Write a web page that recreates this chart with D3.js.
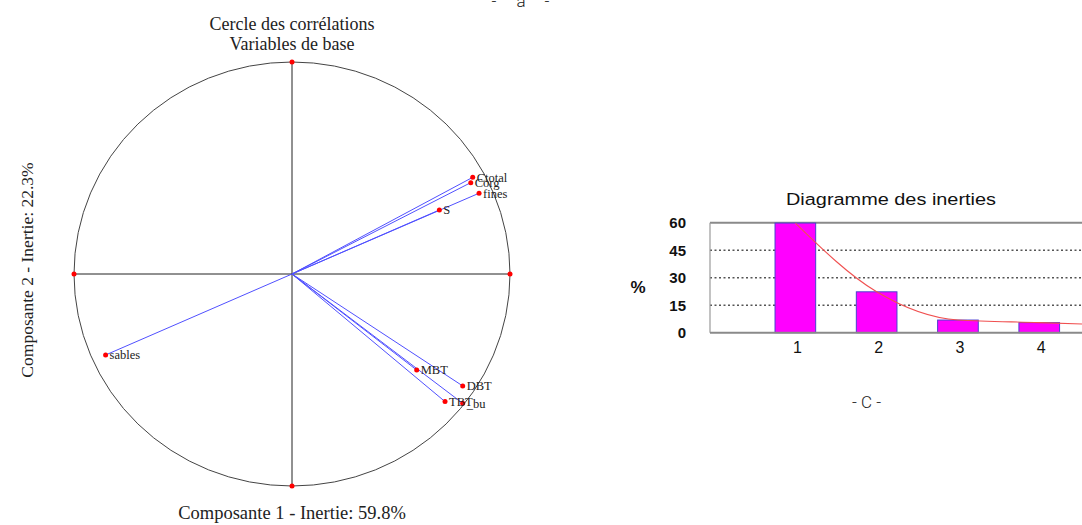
<!DOCTYPE html>
<html>
<head>
<meta charset="utf-8">
<script src="https://cdn.jsdelivr.net/npm/d3@7"></script>
<style>
  html, body { margin: 0; padding: 0; background: #fff; }
  svg { display: block; }
</style>
</head>
<body>
<svg id="chart" width="1082" height="525"></svg>
<script>
// ---------- DATA ----------
// Correlation circle: variable names and coordinates on components 1 and 2
const varNames = ["Ctotal", "Corg", "fines", "S", "sables", "MBT", "DBT", "TBT", "_bu"];
const comp1    = [0.829, 0.820, 0.858, 0.676, -0.855, 0.572, 0.783, 0.702, 0.783];
const comp2    = [0.456, 0.431, 0.381, 0.302, -0.382, -0.453, -0.528, -0.602, -0.610];

// Inertia diagram
const components = ["1", "2", "3", "4", "5"];
const inertia    = [59.8, 22.3, 6.9, 5.5, 4.0];
const yTicks     = [0, 15, 30, 45, 60];

// Text
const circleTitle = ["Cercle des corrélations", "Variables de base"];
const xLabel = "Composante 1 - Inertie: 59.8%";
const yLabel = "Composante 2 - Inertie: 22.3%";
const barTitle = "Diagramme des inerties";

const svg = d3.select("#chart");
svg.append("rect").attr("width", 1082).attr("height", 525).attr("fill", "#fff");

// ---------- LEFT: correlation circle ----------
const cx = d3.scaleLinear().domain([-1, 1]).range([74, 510]);
const cy = d3.scaleLinear().domain([-1, 1]).range([486, 62]);
const serif = "'Liberation Serif', 'Times New Roman', serif";

const gc = svg.append("g");

gc.append("ellipse")
  .attr("cx", cx(0)).attr("cy", cy(0))
  .attr("rx", cx(1) - cx(0)).attr("ry", cy(0) - cy(1))
  .attr("fill", "none").attr("stroke", "#444").attr("stroke-width", 1);

gc.append("line")
  .attr("x1", cx(-1)).attr("x2", cx(1)).attr("y1", cy(0)).attr("y2", cy(0))
  .attr("stroke", "#222").attr("stroke-width", 1);
gc.append("line")
  .attr("x1", cx(0)).attr("x2", cx(0)).attr("y1", cy(-1)).attr("y2", cy(1))
  .attr("stroke", "#222").attr("stroke-width", 1);

const axisEnds = [[-1, 0], [1, 0], [0, -1], [0, 1]];
gc.selectAll("circle.end").data(axisEnds).enter().append("circle")
  .attr("class", "end")
  .attr("cx", d => cx(d[0])).attr("cy", d => cy(d[1]))
  .attr("r", 2.5).attr("fill", "#ff0000");

const vars = varNames.map((n, i) => ({ name: n, x: comp1[i], y: comp2[i] }));

gc.selectAll("line.vec").data(vars).enter().append("line")
  .attr("class", "vec")
  .attr("x1", cx(0)).attr("y1", cy(0))
  .attr("x2", d => cx(d.x)).attr("y2", d => cy(d.y))
  .attr("stroke", "#5050ff").attr("stroke-width", 1);

gc.selectAll("circle.pt").data(vars).enter().append("circle")
  .attr("class", "pt")
  .attr("cx", d => cx(d.x)).attr("cy", d => cy(d.y))
  .attr("r", 2.5).attr("fill", "#ff0000");

gc.selectAll("text.lbl").data(vars).enter().append("text")
  .attr("class", "lbl")
  .attr("x", d => cx(d.x) + 4).attr("y", d => cy(d.y))
  .attr("dy", "0.35em")
  .attr("font-family", serif).attr("font-size", 12.5)
  .attr("fill", "#222")
  .text(d => d.name);

gc.selectAll("text.title").data(circleTitle).enter().append("text")
  .attr("class", "title")
  .attr("x", 292).attr("y", (d, i) => 30 + i * 20)
  .attr("text-anchor", "middle")
  .attr("font-family", serif).attr("font-size", 18)
  .attr("fill", "#222")
  .text(d => d);

gc.append("text")
  .attr("x", 292).attr("y", 519)
  .attr("text-anchor", "middle")
  .attr("font-family", serif).attr("font-size", 18.5)
  .attr("fill", "#222")
  .text(xLabel);

gc.append("text")
  .attr("transform", "translate(33,270) rotate(-90)")
  .attr("text-anchor", "middle")
  .attr("font-family", serif).attr("font-size", 17.5)
  .attr("fill", "#222")
  .text(yLabel);

// Sub-figure letters
const letterFont = "Roboto, 'Noto Sans', sans-serif";
const ga = svg.append("g").attr("font-family", letterFont).attr("font-weight", 300)
  .attr("font-size", 17).attr("fill", "#222").attr("text-anchor", "middle");
ga.append("text").attr("x", 494).attr("y", 7).text("-");
ga.append("text").attr("x", 521).attr("y", 7).text("a");
ga.append("text").attr("x", 547).attr("y", 7).text("-");

svg.append("text")
  .attr("x", 866.5).attr("y", 408)
  .attr("text-anchor", "middle")
  .attr("font-family", letterFont).attr("font-weight", 300)
  .attr("font-size", 17).attr("fill", "#222")
  .text("- C -");

// ---------- RIGHT: inertia diagram ----------
const sans = "Arial, 'Liberation Sans', sans-serif";
const frameLeft = 710;
const y = d3.scaleLinear().domain([0, 60]).range([332.7, 222.7]);
const x = d3.scaleBand().domain(components)
  .range([754.7, 754.7 + 5 * 81.3])
  .paddingInner(0.5).paddingOuter(0.25);

const gb = svg.append("g");

// gridlines (dotted) for intermediate ticks
gb.selectAll("line.grid").data(yTicks.filter(v => v > 0 && v < 60)).enter().append("line")
  .attr("class", "grid")
  .attr("x1", frameLeft).attr("x2", 1200)
  .attr("y1", d => y(d)).attr("y2", d => y(d))
  .attr("stroke", "#555").attr("stroke-width", 1.4)
  .attr("stroke-dasharray", "2,2.5");

// frame
gb.append("line").attr("x1", frameLeft).attr("x2", 1200)
  .attr("y1", y(60)).attr("y2", y(60))
  .attr("stroke", "#8a8a8a").attr("stroke-width", 2);
gb.append("line").attr("x1", frameLeft).attr("x2", frameLeft)
  .attr("y1", y(60)).attr("y2", y(0))
  .attr("stroke", "#9a9a9a").attr("stroke-width", 1.2);

// bars
gb.selectAll("rect.bar").data(components).enter().append("rect")
  .attr("class", "bar")
  .attr("x", d => x(d))
  .attr("y", (d, i) => y(inertia[i]))
  .attr("width", x.bandwidth())
  .attr("height", (d, i) => y(0) - y(inertia[i]))
  .attr("fill", "#ff00ff").attr("stroke", "#4b3fd0").attr("stroke-width", 1);

// baseline
gb.append("line").attr("x1", frameLeft).attr("x2", 1200)
  .attr("y1", y(0)).attr("y2", y(0))
  .attr("stroke", "#8a8a8a").attr("stroke-width", 2);

// red curve through bar tops
const line = d3.line()
  .x((d, i) => x(components[i]) + x.bandwidth() / 2)
  .y(d => y(d))
  .curve(d3.curveMonotoneX);
gb.append("path").datum(inertia)
  .attr("d", line)
  .attr("fill", "none").attr("stroke", "#f05050").attr("stroke-width", 1.1);

// y tick labels
gb.selectAll("text.ytick").data(yTicks).enter().append("text")
  .attr("class", "ytick")
  .attr("x", 686).attr("y", d => y(d))
  .attr("dy", "0.38em")
  .attr("text-anchor", "end")
  .attr("font-family", sans).attr("font-weight", "bold").attr("font-size", 15)
  .attr("fill", "#111")
  .text(d => d);

// x tick labels
gb.selectAll("text.xtick").data(components.slice(0, 4)).enter().append("text")
  .attr("class", "xtick")
  .attr("x", d => x(d) + x.bandwidth() / 2 + 2).attr("y", 353)
  .attr("text-anchor", "middle")
  .attr("font-family", sans).attr("font-size", 16)
  .attr("fill", "#111")
  .text(d => d);

gb.append("text")
  .attr("x", 638).attr("y", 293)
  .attr("text-anchor", "middle")
  .attr("font-family", sans).attr("font-weight", "bold").attr("font-size", 17)
  .attr("fill", "#111")
  .text("%");

gb.append("text")
  .attr("x", 891).attr("y", 205)
  .attr("text-anchor", "middle")
  .attr("font-family", sans).attr("font-size", 16.7)
  .attr("textLength", 210).attr("lengthAdjust", "spacingAndGlyphs")
  .attr("fill", "#111")
  .text(barTitle);
</script>
</body>
</html>
